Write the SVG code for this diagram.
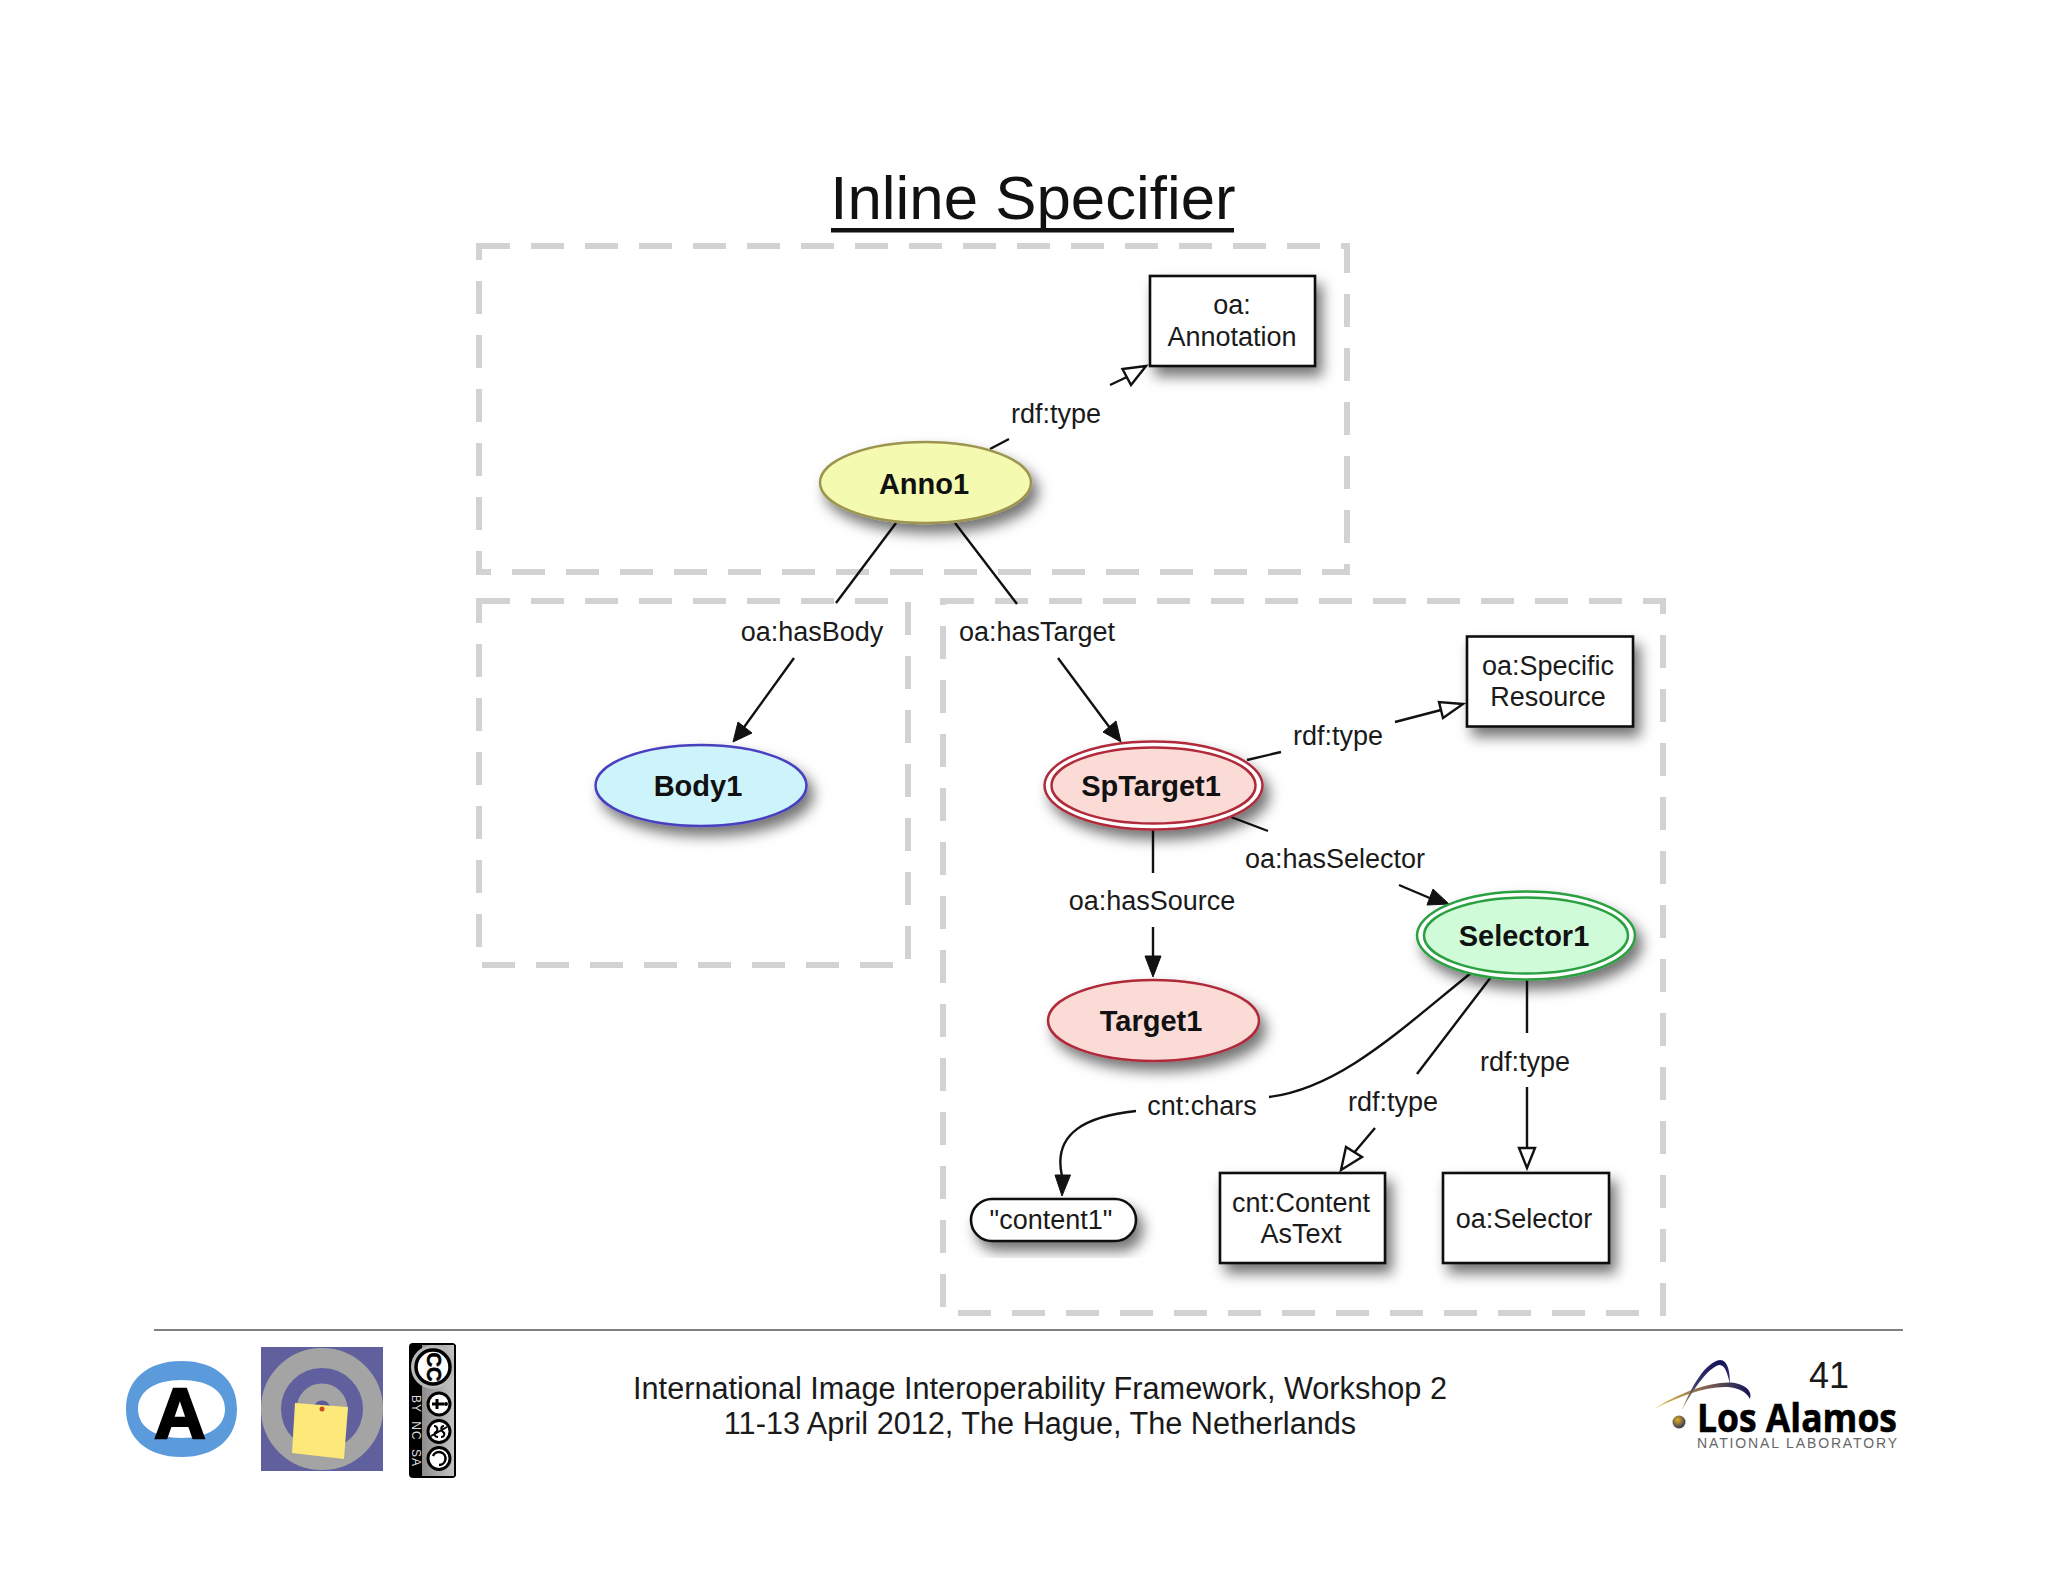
<svg xmlns="http://www.w3.org/2000/svg" width="2048" height="1582" viewBox="0 0 2048 1582">
<style>
text{font-family:"Liberation Sans",Arial,sans-serif;fill:#1a1a1a}
.l{font-size:27px;text-anchor:middle}
.b{font-size:29px;font-weight:bold;text-anchor:middle;fill:#111}
.f{font-size:30.660px;text-anchor:middle}
.d{fill:none;stroke:#d2d2d2;stroke-width:6;stroke-dasharray:33 21;stroke-dashoffset:2}
.c{fill:none;stroke:#111;stroke-width:2.400}
.r{fill:#fff;stroke:#111;stroke-width:2.600}
.a{fill:#111;stroke:#111;stroke-width:1}
.o{fill:#fff;stroke:#111;stroke-width:2.400}
</style>
<defs>
<filter id="s" x="-30%" y="-30%" width="170%" height="170%"><feDropShadow dx="6" dy="9" stdDeviation="7" flood-color="#000" flood-opacity="0.55"/></filter>
<linearGradient id="g1" x1="1654" y1="0" x2="1750" y2="0" gradientUnits="userSpaceOnUse"><stop offset="0" stop-color="#e8c84a"/><stop offset="0.5" stop-color="#8a6a50"/><stop offset="1" stop-color="#14145a"/></linearGradient>
<linearGradient id="g2" x1="0" y1="1410" x2="0" y2="1360" gradientUnits="userSpaceOnUse"><stop offset="0" stop-color="#c8a850"/><stop offset="0.5" stop-color="#3a3a70"/><stop offset="1" stop-color="#14145a"/></linearGradient>
<radialGradient id="g3" cx="0.4" cy="0.35" r="0.7"><stop offset="0" stop-color="#e0b020"/><stop offset="1" stop-color="#2a2a60"/></radialGradient>
<linearGradient id="g4" x1="0" y1="0" x2="1" y2="0"><stop offset="0" stop-color="#8c8c8c"/><stop offset="1" stop-color="#c4c4c4"/></linearGradient>
</defs>
<rect width="2048" height="1582" fill="#fff"/>
<g id="title"><text x="1033" y="219" font-size="61.800" text-anchor="middle" style="fill:#111">Inline Specifier</text><rect x="831" y="228" width="403" height="4.500" fill="#111"/></g>
<g id="regions">
<rect class="d" x="479" y="246" width="868" height="326"/>
<rect class="d" x="479" y="601" width="429" height="364"/>
<rect class="d" x="943" y="601" width="720" height="712"/>
</g>
<g id="connectors">
<path class="c" d="M990 449L1009 439M1110 385L1127 377"/>
<path class="o" d="M1146 366L1122.500 369L1131 385Z"/>
<path class="c" d="M896 523L836 603M794 658L742 730"/>
<path class="a" d="M733 742L738 722L752 733Z"/>
<path class="c" d="M955 523L1017 604M1058 658L1110 728"/>
<path class="a" d="M1121 742L1103 732L1116 721Z"/>
<path class="c" d="M1247 760L1281 752M1395 722L1441 710"/>
<path class="o" d="M1463 704L1439 702L1443 718Z"/>
<path class="c" d="M1231 817L1268 831M1399 885L1432 899"/>
<path class="a" d="M1449 904L1427 905L1433 889Z"/>
<path class="c" d="M1153 830L1153 873M1153 927L1153 960"/>
<path class="a" d="M1153 977L1145 956L1161 956Z"/>
<path class="c" d="M1527 980L1527 1033M1527 1087L1527 1150"/>
<path class="o" d="M1527 1168L1519 1148L1535 1148Z"/>
<path class="c" d="M1491 977L1417 1074M1375 1128L1353 1154"/>
<path class="o" d="M1341 1170L1346 1147L1362 1157Z"/>
<path class="c" d="M1471 973C1400 1030 1340 1088 1269 1097M1136 1111C1088 1116 1052 1132 1062 1176"/>
<path class="a" d="M1062 1196L1055 1175L1070.500 1175Z"/>
</g>
<g id="edge-labels">
<text class="l" x="1056" y="423">rdf:type</text>
<text class="l" x="812" y="641">oa:hasBody</text>
<text class="l" x="1037" y="641">oa:hasTarget</text>
<text class="l" x="1338" y="745">rdf:type</text>
<text class="l" x="1335" y="868">oa:hasSelector</text>
<text class="l" x="1152" y="910">oa:hasSource</text>
<text class="l" x="1525" y="1071">rdf:type</text>
<text class="l" x="1393" y="1111">rdf:type</text>
<text class="l" x="1202" y="1115">cnt:chars</text>
</g>
<g id="annotationClass"><rect class="r" x="1150" y="276" width="165" height="90" filter="url(#s)"/><text class="l" x="1232" y="314">oa:</text><text class="l" x="1232" y="346">Annotation</text></g>
<g id="anno1"><ellipse cx="925.500" cy="482.500" rx="105.500" ry="40.500" fill="#f4fab0" stroke="#9c9450" stroke-width="2.500" filter="url(#s)"/><text class="b" x="924" y="494">Anno1</text></g>
<g id="body1"><ellipse cx="701" cy="785.500" rx="105.500" ry="40.500" fill="#cdf3fb" stroke="#4a3fc0" stroke-width="2.500" filter="url(#s)"/><text class="b" x="698" y="796">Body1</text></g>
<g id="spTarget1"><ellipse cx="1153.500" cy="785.500" rx="109" ry="44" fill="#fff" stroke="#b02a3a" stroke-width="2.500" filter="url(#s)"/><ellipse cx="1153.500" cy="785.500" rx="102" ry="38" fill="#fadbd6" stroke="#b02a3a" stroke-width="2.500"/><text class="b" x="1151" y="796">SpTarget1</text></g>
<g id="specificResource"><rect class="r" x="1467" y="636.500" width="166" height="90" filter="url(#s)"/><text class="l" x="1548" y="675">oa:Specific</text><text class="l" x="1548" y="706">Resource</text></g>
<g id="selector1"><ellipse cx="1526" cy="935.500" rx="109" ry="44" fill="#fff" stroke="#2aa040" stroke-width="2.500" filter="url(#s)"/><ellipse cx="1526" cy="935.500" rx="102" ry="38" fill="#d0fbd8" stroke="#2aa040" stroke-width="2.500"/><text class="b" x="1524" y="946">Selector1</text></g>
<g id="target1"><ellipse cx="1153.500" cy="1020.500" rx="105.500" ry="40.500" fill="#fadbd6" stroke="#b02a3a" stroke-width="2.500" filter="url(#s)"/><text class="b" x="1151" y="1031">Target1</text></g>
<g id="content1"><rect class="r" x="971" y="1199" width="165" height="42" rx="21" filter="url(#s)"/><text class="l" x="1051" y="1229">"content1"</text></g>
<g id="contentAsText"><rect class="r" x="1220" y="1173" width="165" height="90" filter="url(#s)"/><text class="l" x="1301" y="1212">cnt:Content</text><text class="l" x="1301" y="1243">AsText</text></g>
<g id="selectorClass"><rect class="r" x="1443" y="1173" width="166" height="90" filter="url(#s)"/><text class="l" x="1524" y="1228">oa:Selector</text></g>
<g id="footer">
<rect x="154" y="1329" width="1749" height="2" fill="#808080"/>
<text class="f" x="1040" y="1399">International Image Interoperability Framework, Workshop 2</text>
<text class="f" x="1040" y="1434">11-13 April 2012, The Hague, The Netherlands</text>
<text x="1829" y="1388" font-size="36" text-anchor="middle">41</text>
</g>
<g id="logo-a">
<path fill-rule="evenodd" fill="#5b9bdc" d="M181.500 1361C216 1361 237 1380 237 1409C237 1438 216 1457 181.500 1457C147 1457 126 1438 126 1409C126 1380 147 1361 181.500 1361ZM181.500 1380C155 1380 138 1391 138 1409C138 1427 155 1438 181.500 1438C208 1438 225 1427 225 1409C225 1391 208 1380 181.500 1380Z"/>
<text x="180" y="1438" font-size="71" font-weight="bold" text-anchor="middle" style="fill:#000;stroke:#000;stroke-width:2.500">A</text>
</g>
<g id="logo-note">
<rect x="261" y="1347" width="122" height="124" fill="#60609f"/>
<circle cx="322" cy="1409" r="51" fill="none" stroke="#a4a4a4" stroke-width="20"/>
<circle cx="322" cy="1409" r="17" fill="#5a5a98" stroke="#a4a4a4" stroke-width="17"/>
<path d="M295 1403L348 1407L344 1459L292 1453Z" fill="#fce97a"/>
<circle cx="322" cy="1409" r="2.500" fill="#d04a20"/>
</g>
<g id="logo-cc">
<rect x="409" y="1343" width="47" height="135" rx="4" fill="#000"/>
<rect x="422" y="1345" width="32" height="131" fill="url(#g4)"/>
<circle cx="433" cy="1367" r="22" fill="#b8b8b8"/>
<rect x="454" y="1345" width="2" height="131" fill="#000"/>
<circle cx="433" cy="1367" r="17" fill="#fff" stroke="#000" stroke-width="3.500"/>
<text transform="translate(427 1367) rotate(90)" font-size="20" font-weight="bold" text-anchor="middle" style="fill:#000;stroke:#000;stroke-width:.6">CC</text>
<circle cx="439" cy="1404" r="11" fill="#fff" stroke="#000" stroke-width="3"/>
<path d="M432 1404L444 1404M437 1399L437 1409" stroke="#000" stroke-width="3" fill="none"/>
<circle cx="446" cy="1404" r="2" fill="#000"/>
<circle cx="439" cy="1431.500" r="11" fill="#fff" stroke="#000" stroke-width="3"/>
<path d="M431 1436L447 1427M434 1426C438 1426 438 1431 436 1432C434 1433 434 1437 438 1437M444 1426C440 1426 441 1431 443 1432C445 1433 445 1437 441 1437" fill="none" stroke="#000" stroke-width="2"/>
<circle cx="439" cy="1458.500" r="11" fill="#fff" stroke="#000" stroke-width="3"/>
<path d="M439 1465A6.500 6.500 0 1 0 433 1456" fill="none" stroke="#000" stroke-width="2.500"/>
<text transform="translate(412 1404) rotate(90)" font-size="12" letter-spacing="1" text-anchor="middle" style="fill:#ddd">BY</text>
<text transform="translate(412 1431) rotate(90)" font-size="12" letter-spacing="1" text-anchor="middle" style="fill:#ddd">NC</text>
<text transform="translate(412 1458) rotate(90)" font-size="12" letter-spacing="1" text-anchor="middle" style="fill:#ddd">SA</text>
</g>
<g id="logo-lanl">
<path d="M1654 1409C1680 1392 1715 1380 1735 1383C1748 1386 1752 1392 1750 1399C1746 1391 1738 1388 1728 1387C1705 1386 1680 1396 1654 1409Z" fill="url(#g1)"/>
<path d="M1682 1410C1692 1385 1706 1362 1720 1360C1728 1360 1730 1372 1730 1384C1727 1372 1725 1365 1719 1365C1708 1368 1694 1388 1682 1410Z" fill="url(#g2)"/>
<circle cx="1679" cy="1422" r="6.500" fill="url(#g3)"/>
<text x="1697" y="1432" font-size="39" font-weight="bold" textLength="200" lengthAdjust="spacingAndGlyphs" style="font-family:'Open Sans','Liberation Sans',sans-serif;fill:#000;stroke:#000;stroke-width:.6">Los Alamos</text>
<text x="1697" y="1448" font-size="14" textLength="200" style="fill:#666">NATIONAL LABORATORY</text>
</g>
</svg>
